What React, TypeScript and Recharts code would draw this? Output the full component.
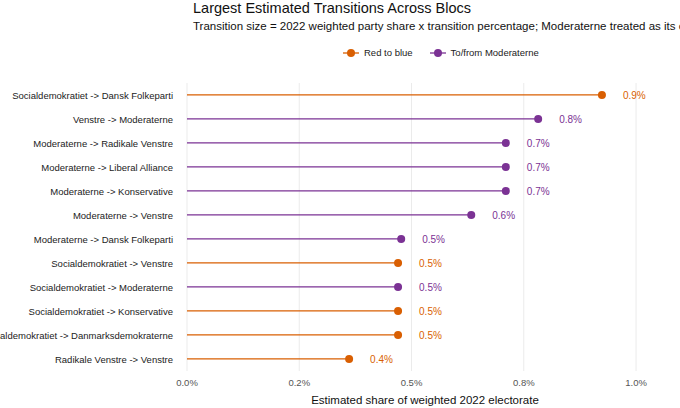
import { BarChart, Bar, XAxis, YAxis, CartesianGrid } from 'recharts'

const flows = [
  'Socialdemokratiet -> Dansk Folkeparti',
  'Venstre -> Moderaterne',
  'Moderaterne -> Radikale Venstre',
  'Moderaterne -> Liberal Alliance',
  'Moderaterne -> Konservative',
  'Moderaterne -> Venstre',
  'Moderaterne -> Dansk Folkeparti',
  'Socialdemokratiet -> Venstre',
  'Socialdemokratiet -> Moderaterne',
  'Socialdemokratiet -> Konservative',
  'Socialdemokratiet -> Danmarksdemokraterne',
  'Radikale Venstre -> Venstre',
]
const shares = [0.924, 0.782, 0.71, 0.71, 0.71, 0.633, 0.477, 0.47, 0.47, 0.47, 0.47, 0.361]
const kinds = ['red', 'mod', 'mod', 'mod', 'mod', 'mod', 'mod', 'red', 'mod', 'red', 'red', 'red']
const ticks = [0, 0.25, 0.5, 0.75, 1]
const tickLabels = ['0.0%', '0.2%', '0.5%', '0.8%', '1.0%']

const COLORS: Record<string, string> = { red: '#D95F02', mod: '#7B3294' }
const FONT = '"Liberation Sans", Arial, sans-serif'

const data = flows.map((f, i) => ({ flow: f, share: shares[i], kind: kinds[i] }))

function Lollipop(props: any) {
  const { x, y, width, height, payload } = props
  const c = COLORS[payload.kind]
  const cy = y + height / 2
  const ex = x + width
  return (
    <g>
      <line x1={x} x2={ex} y1={cy} y2={cy} stroke={c} strokeWidth={1.3} />
      <circle cx={ex} cy={cy} r={4} fill={c} />
      <text x={ex + 21} y={cy + 4} fill={c} fontSize={10} fontFamily={FONT}>
        {payload.share.toFixed(1)}%
      </text>
    </g>
  )
}

function FlowTick(props: any) {
  const { x, y, payload } = props
  return (
    <text x={x - 6} y={y + 3.5} textAnchor="end" fontSize={9.5} fill="#222" fontFamily={FONT}>
      {payload.value}
    </text>
  )
}

export default function App() {
  return (
    <div style={{ position: 'fixed', left: 0, top: 0, width: 680, height: 408, background: '#fff', fontFamily: FONT, overflow: 'hidden' }}>
      <div style={{ position: 'absolute', left: 193, top: 0, fontSize: 14.5, color: '#111', whiteSpace: 'nowrap' }}>
        Largest Estimated Transitions Across Blocs
      </div>
      <div style={{ position: 'absolute', left: 193, top: 20, fontSize: 11.5, color: '#111', whiteSpace: 'nowrap' }}>
        Transition size = 2022 weighted party share x transition percentage; Moderaterne treated as its own bloc
      </div>
      <div style={{ position: 'absolute', left: 343, top: 47, fontSize: 9.5, color: '#222', display: 'flex', alignItems: 'center', gap: 5, whiteSpace: 'nowrap' }}>
        <svg width={16} height={10}><line x1={0} x2={16} y1={5} y2={5} stroke={COLORS.red} strokeWidth={1.3} /><circle cx={8} cy={5} r={4} fill={COLORS.red} /></svg>
        <span style={{ marginRight: 12 }}>Red to blue</span>
        <svg width={16} height={10}><line x1={0} x2={16} y1={5} y2={5} stroke={COLORS.mod} strokeWidth={1.3} /><circle cx={8} cy={5} r={4} fill={COLORS.mod} /></svg>
        <span>To/from Moderaterne</span>
      </div>
      <BarChart
        width={680}
        height={408}
        data={data}
        layout="vertical"
        margin={{ top: 83, right: 17, bottom: 0, left: 0 }}
        style={{ position: 'absolute', left: 0, top: 0 }}
      >
        <CartesianGrid horizontal={false} stroke="#ebebeb" syncWithTicks />
        <XAxis
          type="number"
          domain={[0, 1.06]}
          ticks={ticks}
          tickFormatter={(v: number) => tickLabels[ticks.indexOf(v)]}
          axisLine={false}
          tickLine={false}
          height={37}
          tick={{ fontSize: 9.5, fill: '#555', fontFamily: FONT }}
          label={{ value: 'Estimated share of weighted 2022 electorate', position: 'insideBottom', offset: 4, fontSize: 11.5, fill: '#111', fontFamily: FONT }}
        />
        <YAxis
          type="category"
          dataKey="flow"
          width={187}
          axisLine={false}
          tickLine={false}
          interval={0}
          tick={FlowTick}
        />
        <Bar dataKey="share" shape={Lollipop} isAnimationActive={false} />
      </BarChart>
    </div>
  )
}
